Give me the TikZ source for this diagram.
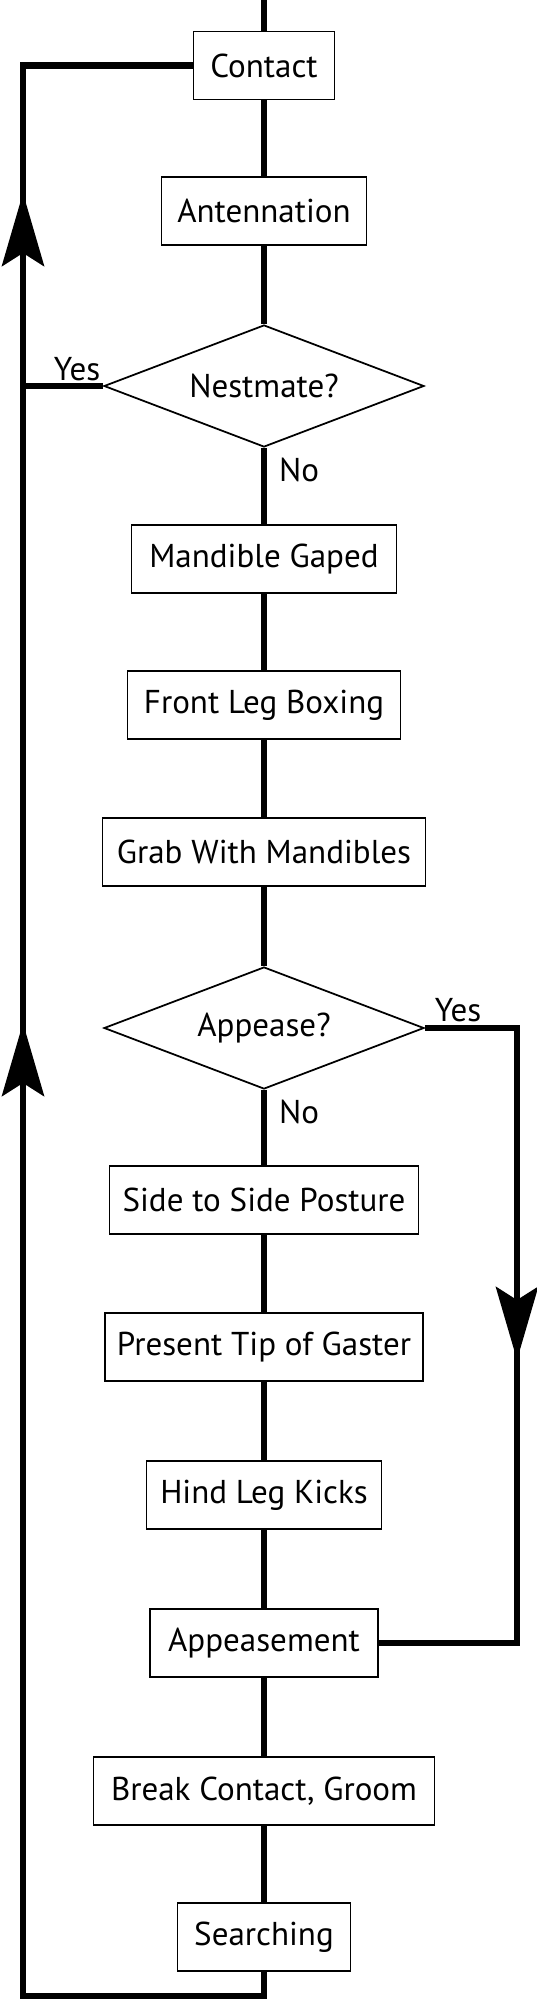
\documentclass[tikz,border=0pt]{standalone}
\usepackage{fontspec}
\setmainfont{PT Sans}
\usepackage{tikz}
\usetikzlibrary{arrows.meta,positioning,shapes.geometric,calc}

\begin{document}
\begin{tikzpicture}[
    >=Stealth,
    stepbox/.style={draw, line width=1pt, fill=white, minimum height=1.36cm, inner sep=0pt, font=\fontsize{18.8}{21}\selectfont},
    question/.style={draw, diamond, aspect=2.62, line width=1pt, fill=white, minimum width=6.4cm, minimum height=2.44cm, inner sep=0pt, font=\fontsize{18.8}{21}\selectfont},
    flow/.style={line width=3.8pt, line join=miter},
    head/.style={line width=3.8pt, -{Stealth[length=1.46cm, width=0.84cm, inset=0.26cm]}},
    lbl/.style={font=\fontsize{18.8}{21}\selectfont},
]
\useasboundingbox (0,0) rectangle (10.74,-40);

% ========== Main column ==========
\foreach \n/\y/\w/\lab in {contact/-1.31/2.82/Contact, antenna/-4.22/4.10/Antennation,
    mandible/-11.18/5.30/Mandible Gaped, boxing/-14.10/5.46/Front Leg Boxing,
    grab/-17.04/6.46/Grab With Mandibles, sideside/-24.00/6.18/Side to Side Posture,
    gaster/-26.94/6.36/Present Tip of Gaster, kicks/-29.90/4.70/Hind Leg Kicks,
    appeasement/-32.86/4.56/Appeasement, groom/-35.82/6.82/{Break Contact, Groom},
    search/-38.74/3.46/Searching} {
    \node[stepbox, minimum width=\w cm] (\n) at (5.28,\y) {\lab};
}
\node[question] (nest) at (5.28,-7.72) {Nestmate?};
\node[question] (appease) at (5.28,-20.56) {Appease?};

% Connectors down the column
\coordinate (top) at (5.28,0);
\draw[flow] (top) -- (contact.north);
\foreach \a/\b in {contact/antenna, antenna/nest, nest/mandible, mandible/boxing, boxing/grab,
    grab/appease, appease/sideside, sideside/gaster, gaster/kicks, kicks/appeasement,
    appeasement/groom, groom/search} {
    \draw[flow] (\a) -- (\b);
}

% ========== Return loop (left) ==========
\coordinate (bl) at (0.46,-39.92);
\draw[flow] (search.south) |- (bl) |- (contact.west);
\draw[flow] (nest.west) -- (nest.west -| bl);
\coordinate (upA) at (0.46,-3.86);
\coordinate (upB) at (0.46,-20.46);
\draw[head] (upA) ++(0,-2) -- (upA);
\draw[head] (upB) ++(0,-2) -- (upB);

% ========== Appease bypass (right) ==========
\coordinate (rc) at (10.34,0);
\draw[flow] (appease.east) -- (appease.east -| rc) |- (appeasement.east);
\coordinate (downA) at (10.34,-27.20);
\draw[head] (downA) ++(0,2) -- (downA);

% Branch labels
\node[lbl] (yesnest) at (1.54,-7.38) {Yes};
\node[lbl] (nonest) at (5.98,-9.40) {No};
\node[lbl] (yesapp) at (9.16,-20.20) {Yes};
\node[lbl] (noapp) at (5.98,-22.24) {No};

\end{tikzpicture}
\end{document}
